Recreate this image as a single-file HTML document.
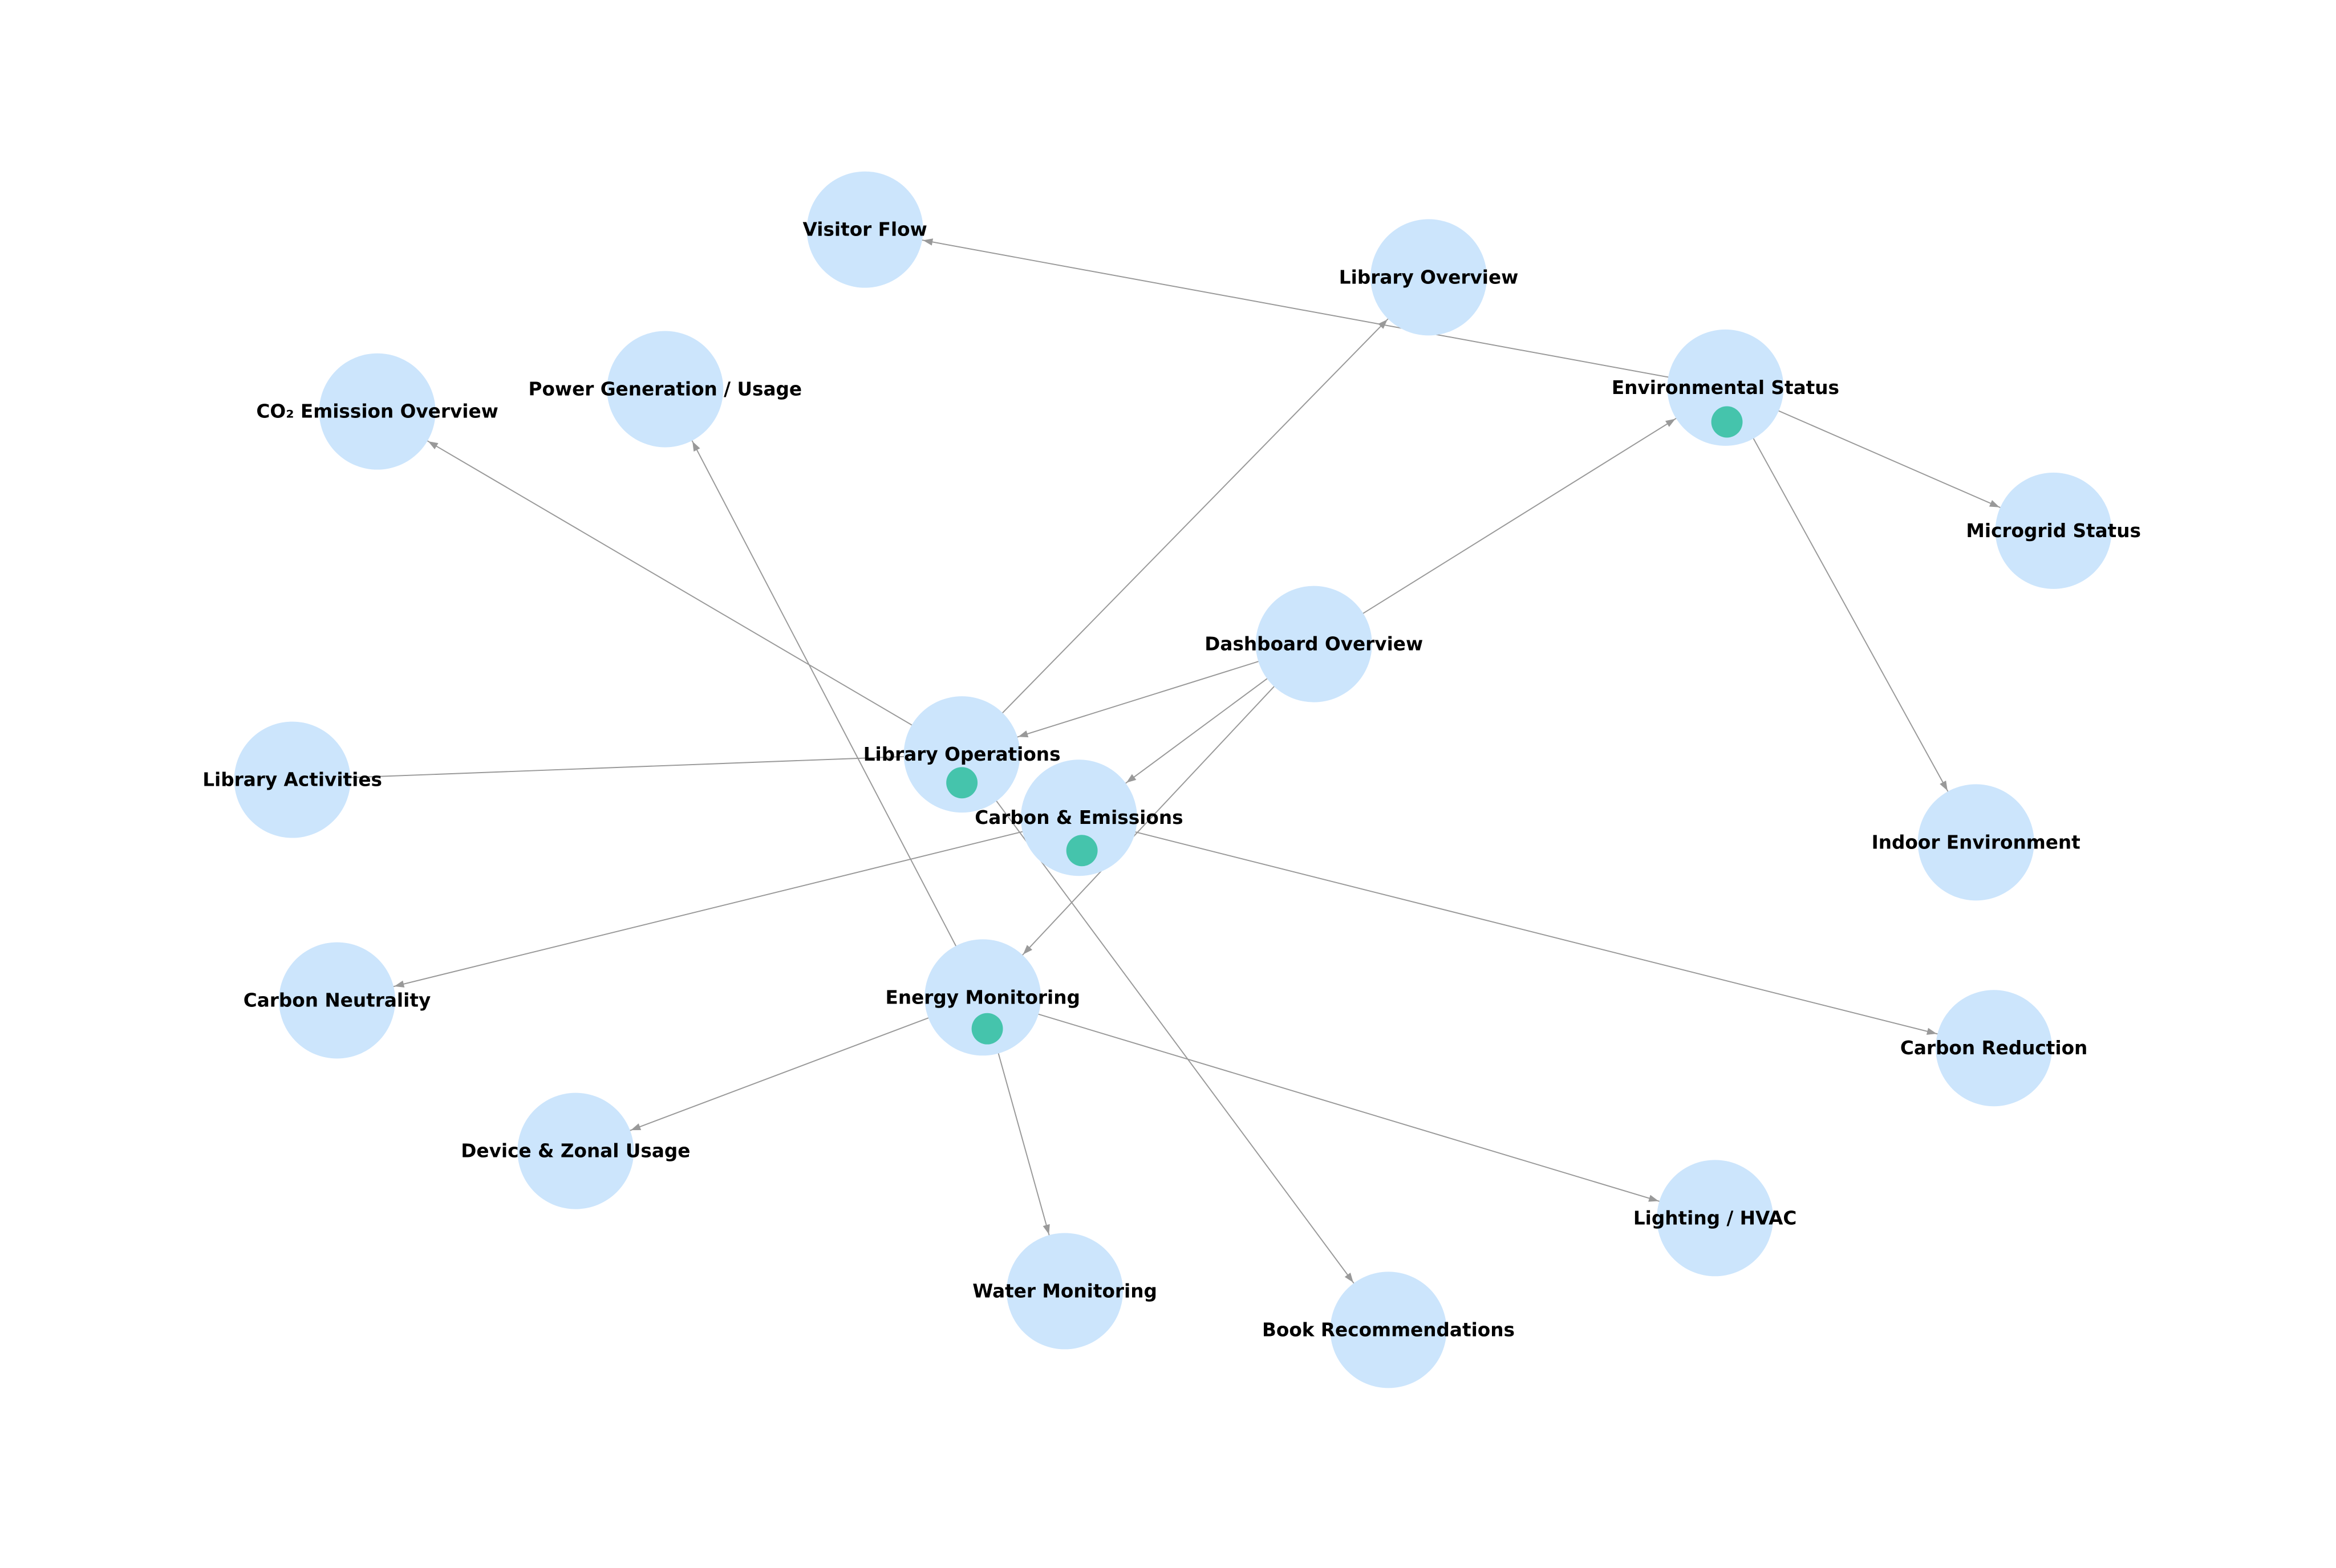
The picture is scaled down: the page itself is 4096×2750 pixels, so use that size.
<!DOCTYPE html>
<html><head><meta charset="utf-8"><style>
html,body{margin:0;padding:0;background:#fff;}
svg{display:block;}
text{font-family:"DejaVu Sans","Liberation Sans",sans-serif;font-weight:bold;font-size:12.5px;fill:#000;text-anchor:middle;dominant-baseline:central;}
</style></head><body>
<svg width="4096" height="2750" viewBox="0 0 1566.4 1051.7" xmlns="http://www.w3.org/2000/svg">
<defs>
<marker id="a" markerUnits="userSpaceOnUse" viewBox="0 -5 50 10" markerWidth="50" markerHeight="10" refX="46" refY="0" orient="auto" overflow="visible">
<path d="M0,-2.4L6.5,0L0,2.4z" fill="#999"/>
</marker>
</defs>
<g stroke="#999" stroke-width="0.75" fill="none" marker-end="url(#a)">
<line x1="1157" y1="260" x2="580" y2="154"/>
<line x1="1157" y1="260" x2="1377" y2="356"/>
<line x1="1157" y1="260" x2="1325" y2="565"/>
<line x1="881" y1="432" x2="1157" y2="260"/>
<line x1="881" y1="432" x2="645" y2="506"/>
<line x1="881" y1="432" x2="723.5" y2="548.5"/>
<line x1="881" y1="432" x2="659" y2="669"/>
<line x1="645" y1="506" x2="958" y2="186"/>
<line x1="645" y1="506" x2="253" y2="276"/>
<line x1="645" y1="506" x2="931" y2="892"/>
<line x1="723.5" y1="548.5" x2="226" y2="671"/>
<line x1="723.5" y1="548.5" x2="1337" y2="703"/>
<line x1="659" y1="669" x2="446" y2="261"/>
<line x1="659" y1="669" x2="386" y2="772"/>
<line x1="659" y1="669" x2="714" y2="866"/>
<line x1="659" y1="669" x2="1150" y2="817"/>
</g>
<line x1="645" y1="506" x2="196" y2="523" stroke="#999" stroke-width="0.75"/>
<g fill="#cce5fc">
<circle cx="580" cy="154" r="39"/>
<circle cx="958" cy="186" r="39"/>
<circle cx="1157" cy="260" r="39"/>
<circle cx="1377" cy="356" r="39"/>
<circle cx="253" cy="276" r="39"/>
<circle cx="446" cy="261" r="39"/>
<circle cx="881" cy="432" r="39"/>
<circle cx="645" cy="506" r="39"/>
<circle cx="723.5" cy="548.5" r="39"/>
<circle cx="196" cy="523" r="39"/>
<circle cx="1325" cy="565" r="39"/>
<circle cx="226" cy="671" r="39"/>
<circle cx="659" cy="669" r="39"/>
<circle cx="1337" cy="703" r="39"/>
<circle cx="386" cy="772" r="39"/>
<circle cx="1150" cy="817" r="39"/>
<circle cx="714" cy="866" r="39"/>
<circle cx="931" cy="892" r="39"/>
</g>
<g fill="#45c4ac">
<circle cx="1158" cy="283" r="10.5"/>
<circle cx="645" cy="525" r="10.5"/>
<circle cx="725.5" cy="570.5" r="10.5"/>
<circle cx="662" cy="690" r="10.5"/>
</g>
<text x="580" y="154">Visitor Flow</text>
<text x="958" y="186">Library Overview</text>
<text x="1157" y="260">Environmental Status</text>
<text x="1377" y="356">Microgrid Status</text>
<text x="253" y="276">CO₂ Emission Overview</text>
<text x="446" y="261">Power Generation / Usage</text>
<text x="881" y="432">Dashboard Overview</text>
<text x="645" y="506">Library Operations</text>
<text x="723.5" y="548.5">Carbon &amp; Emissions</text>
<text x="196" y="523">Library Activities</text>
<text x="1325" y="565">Indoor Environment</text>
<text x="226" y="671">Carbon Neutrality</text>
<text x="659" y="669">Energy Monitoring</text>
<text x="1337" y="703">Carbon Reduction</text>
<text x="386" y="772">Device &amp; Zonal Usage</text>
<text x="1150" y="817">Lighting / HVAC</text>
<text x="714" y="866">Water Monitoring</text>
<text x="931" y="892">Book Recommendations</text>
</svg>
</body></html>
